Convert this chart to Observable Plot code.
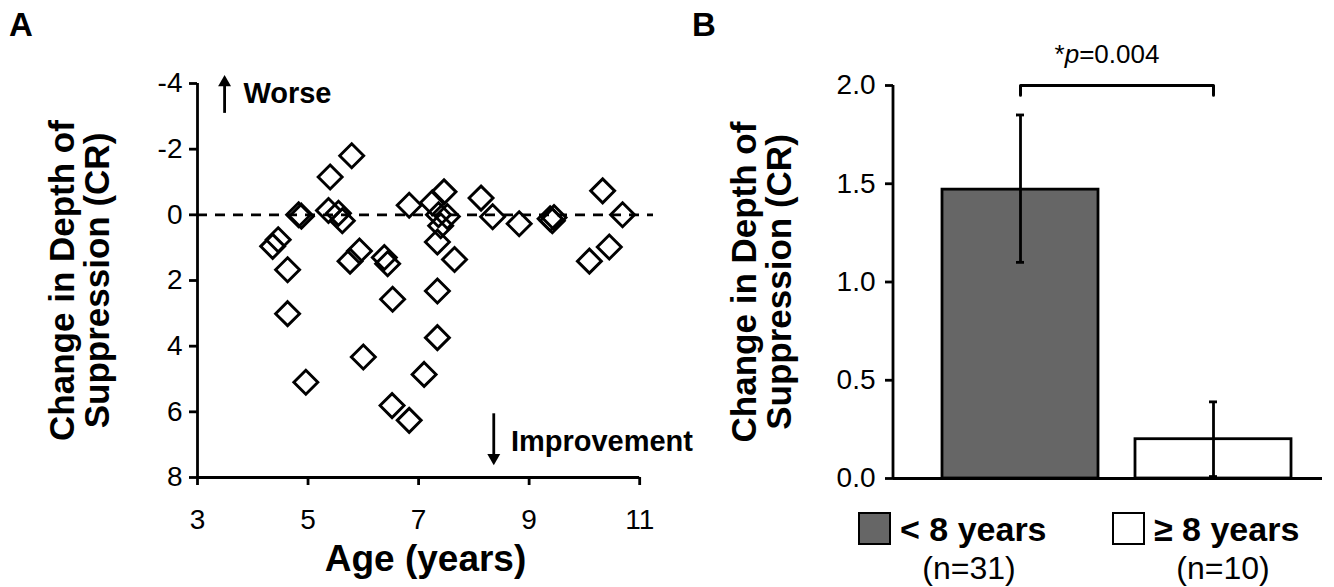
<!DOCTYPE html>
<html><head><meta charset="utf-8">
<script src="https://cdn.jsdelivr.net/npm/d3@7"></script>
<script src="https://cdn.jsdelivr.net/npm/@observablehq/plot@0.6"></script>
<style>
body{margin:0;background:#fff;font-family:"Liberation Sans",Arial,sans-serif;}
#wrap{position:relative;width:1334px;height:587px;overflow:hidden;background:#fff;}
#wrap svg{position:absolute;top:0;}
.abs{position:absolute;white-space:nowrap;color:#000;line-height:1;}
.sw{position:absolute;box-sizing:border-box;border:2.5px solid #000;}
</style></head><body><div id="wrap"></div>
<script>
// ---- Panel A data (age in years, change in depth of suppression CR) ----
const ages = [5.79,5.40,4.83,4.88,5.37,5.55,5.62,4.46,4.36,4.63,4.63,4.96,5.93,5.76,6.38,6.44,6.53,6.00,6.52,6.83,7.10,7.34,7.34,7.34,7.65,6.83,7.25,7.46,7.36,7.52,7.40,
              8.13,8.34,8.82,9.38,9.42,9.45,10.33,10.69,10.45,10.09];
const changes = [-1.80,-1.15,0.00,0.04,-0.13,-0.05,0.18,0.76,0.96,1.67,3.01,5.10,1.10,1.41,1.30,1.49,2.57,4.33,5.81,6.26,4.86,3.74,2.32,0.83,1.36,-0.29,-0.37,-0.70,0.00,0.05,0.33,
                 -0.51,0.06,0.27,0.12,0.18,0.08,-0.73,0.00,0.98,1.41];
const ageTicks = [3,5,7,9,11];
const changeTicks = [-4,-2,0,2,4,6,8];
const annotTexts = ["Worse","Improvement"];
const annotX = [3.83, 8.67];
const annotY = [-3.70, 6.91];
const arrowX = [3.49, 8.36];
const arrowFrom = [-3.09, 6.06];
const arrowTo = [-3.95, 7.30];
const arrowTip = [-4.03, 7.40];
const arrowRot = [0, 180];
const titleY = "Change in Depth of\nSuppression (CR)";
const titleA_x = "Age (years)";

// ---- Panel B data ----
const groups = ["< 8 years", "≥ 8 years"];
const groupN = ["(n=31)", "(n=10)"];
const means = [1.47, 0.20];
const errLow = [1.10, 0.01];
const errHigh = [1.85, 0.39];
const groupFill = ["#666666", "#ffffff"];
const barTicks = [0, 0.5, 1.0, 1.5, 2.0];
const bracketY = [1.95, 2.0, 2.0, 1.95];
const bracketG = [groups[0], groups[0], groups[1], groups[1]];
const pText = ["*", "p", "=0.004"];

const FONT = '"Liberation Sans", Arial, sans-serif';
const wrap = document.getElementById("wrap");

const points = ages.map((a, i) => ({age: a, change: changes[i]}));
const arrows = arrowX.map((x, i) => ({x, y1: arrowFrom[i], y2: arrowTo[i], tip: arrowTip[i], rot: arrowRot[i]}));
const annots = annotTexts.map((t, i) => ({t, x: annotX[i], y: annotY[i]}));

const plotA = Plot.plot({
  width: 680, height: 587,
  marginLeft: 197, marginRight: 27, marginTop: 83, marginBottom: 110,
  style: {fontFamily: FONT, fontSize: "28px", color: "#000", background: "transparent", overflow: "visible"},
  x: {domain: [3, 11.25]},
  y: {domain: [-4, 8], reverse: true},
  marks: [
    Plot.ruleY([0], {strokeDasharray: "10,8", strokeWidth: 2.8, stroke: "#000"}),
    Plot.ruleX([ageTicks[0]], {strokeWidth: 2.8, stroke: "#000"}),
    Plot.ruleY([changeTicks[changeTicks.length - 1]], {x1: ageTicks[0], x2: ageTicks[ageTicks.length - 1], strokeWidth: 2.8, stroke: "#000"}),
    Plot.axisY(changeTicks, {tickSize: 8, tickPadding: 7, strokeWidth: 2.8, stroke: "#000", fill: "#000", tickFormat: d => String(d), fontSize: 28, label: null}),
    Plot.axisX(ageTicks, {tickSize: 8, tickPadding: 24, strokeWidth: 2.8, stroke: "#000", fill: "#000", tickFormat: d => String(d), fontSize: 28, label: null}),
    Plot.dot(points, {x: "age", y: "change", symbol: "diamond2", r: 10.8, stroke: "#000", strokeWidth: 2.9, fill: "none"}),
    Plot.ruleX(arrows, {x: "x", y1: "y1", y2: "y2", strokeWidth: 2.8, stroke: "#000"}),
    Plot.dot(arrows, {x: "x", y: "tip", symbol: "triangle", r: 4.8, fill: "#000", stroke: "none", rotate: "rot"}),
    Plot.text(annots, {x: "x", y: "y", text: "t", textAnchor: "start", fontWeight: "bold", fontSize: 29, fill: "#000"}),
    Plot.text([titleY], {text: d => d, frameAnchor: "left", textAnchor: "middle", dx: -117, rotate: -90, fontWeight: "bold", fontSize: 35, lineHeight: 0.98, fill: "#000"}),
    Plot.text([titleA_x], {text: d => d, frameAnchor: "bottom", textAnchor: "middle", dy: 93, fontWeight: "bold", fontSize: 37, fill: "#000"})
  ]
});
plotA.style.left = "0px";
wrap.appendChild(plotA);

const bars = groups.map((g, i) => ({g, m: means[i], lo: errLow[i], hi: errHigh[i], fill: groupFill[i]}));
const bracket = bracketY.map((y, i) => ({g: bracketG[i], y}));

const yLine = (index, scales, values, dim) => {
  const l = document.createElementNS("http://www.w3.org/2000/svg", "line");
  l.setAttribute("x1", dim.marginLeft); l.setAttribute("x2", dim.marginLeft);
  l.setAttribute("y1", dim.marginTop); l.setAttribute("y2", dim.height - dim.marginBottom);
  l.setAttribute("stroke", "#000"); l.setAttribute("stroke-width", 2.8);
  return l;
};

const plotB = Plot.plot({
  width: 654, height: 587,
  marginLeft: 213, marginRight: 12, marginTop: 85, marginBottom: 109,
  style: {fontFamily: FONT, fontSize: "28px", color: "#000", background: "transparent", overflow: "visible"},
  x: {type: "band", domain: groups, range: [261, 612], paddingInner: 0.19, paddingOuter: 0, axis: null},
  y: {domain: [0, 2]},
  marks: [
    Plot.barY(bars, {x: "g", y: "m", fill: d => d.fill, stroke: "#000", strokeWidth: 2.8}),
    Plot.ruleX(bars, {x: "g", y1: "lo", y2: "hi", stroke: "#000", strokeWidth: 2.8}),
    Plot.tickY(bars, {x: "g", y: "hi", insetLeft: 74, insetRight: 74, stroke: "#000", strokeWidth: 2.8}),
    Plot.tickY(bars, {x: "g", y: "lo", insetLeft: 74, insetRight: 74, stroke: "#000", strokeWidth: 2.8}),
    Plot.ruleY([0], {stroke: "#000", strokeWidth: 2.8}),
    yLine,
    Plot.axisY(barTicks, {tickSize: 8, tickPadding: 10, strokeWidth: 2.8, stroke: "#000", fill: "#000", tickFormat: d3.format(".1f"), fontSize: 28, label: null}),
    Plot.line(bracket, {x: "g", y: "y", stroke: "#000", strokeWidth: 3}),
    Plot.text([titleY], {text: d => d, frameAnchor: "left", textAnchor: "middle", dx: -131, rotate: -90, fontWeight: "bold", fontSize: 35, lineHeight: 0.98, fill: "#000"})
  ]
});
plotB.style.left = "680px";
wrap.appendChild(plotB);

// Panel letters, p-value and legend as HTML text
function addText(html, left, top, size, weight, anchor) {
  const d = document.createElement("div");
  d.className = "abs";
  d.innerHTML = html;
  d.style.left = left + "px"; d.style.top = top + "px";
  d.style.fontSize = size + "px"; d.style.fontWeight = weight;
  if (anchor === "middle") d.style.transform = "translate(-50%,0)";
  wrap.appendChild(d);
  return d;
}
addText("A", 9, 8, 33, "bold");
addText("B", 692, 8, 33, "bold");
addText(pText[0] + "<i>" + pText[1] + "</i>" + pText[2], 1107, 41, 26, "normal", "middle");

const swLeft = [858, 1112];
groups.forEach((g, i) => {
  const s = document.createElement("div");
  s.className = "sw";
  s.style.left = swLeft[i] + "px"; s.style.top = "512px";
  s.style.width = "33px"; s.style.height = "33px";
  s.style.background = groupFill[i];
  wrap.appendChild(s);
  addText(g, swLeft[i] + 42, 512, 34, "bold");
  addText(groupN[i], swLeft[i] + 111, 552, 32, "normal", "middle");
});
</script></body></html>
